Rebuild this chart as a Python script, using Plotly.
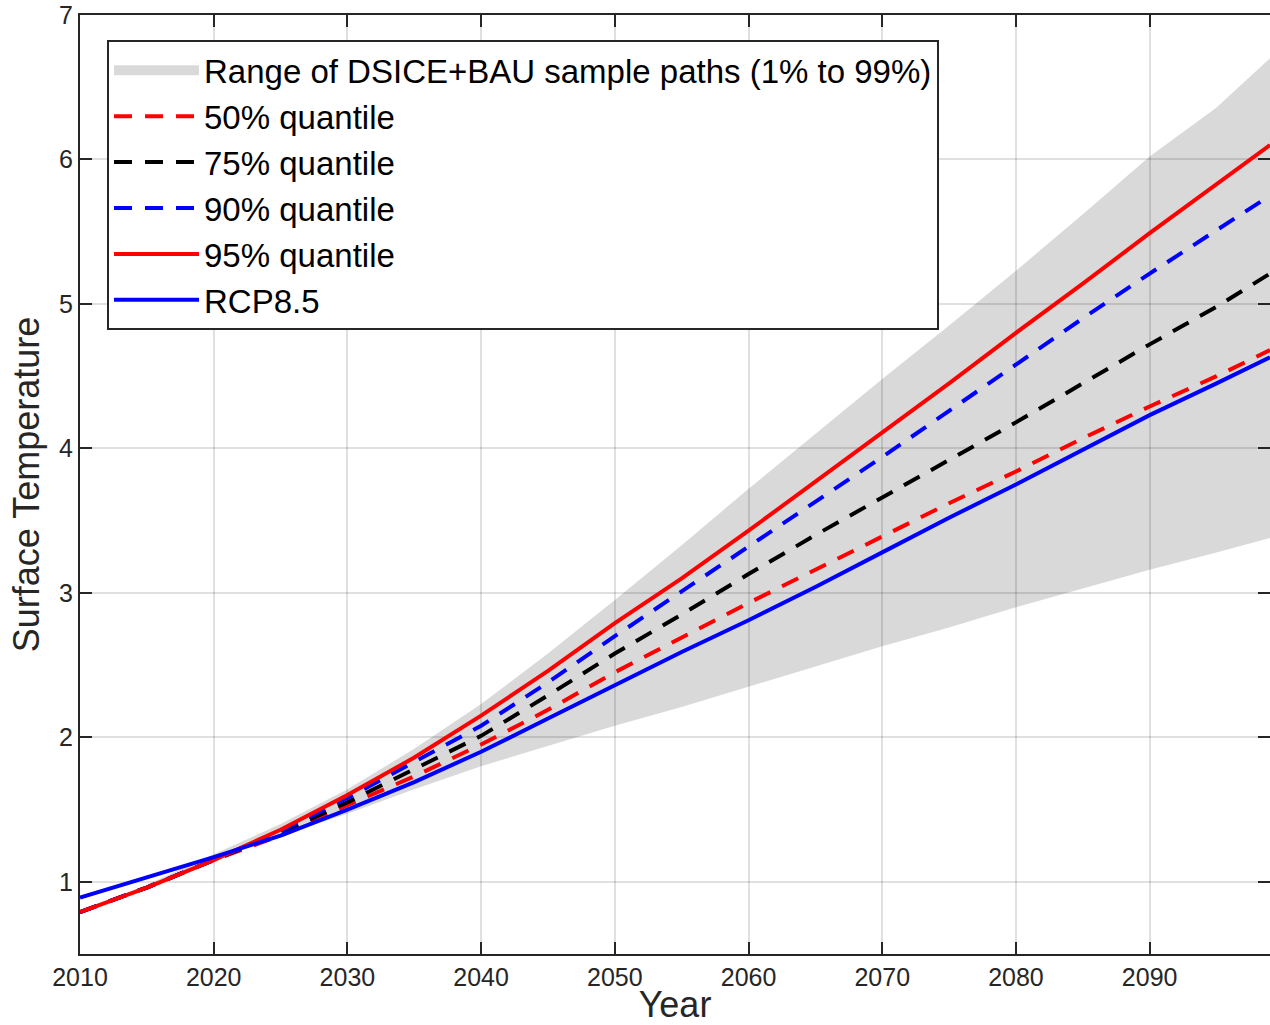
import plotly.graph_objects as go

years = [2010, 2015, 2020, 2025, 2030, 2035, 2040, 2045, 2050, 2055,
         2060, 2065, 2070, 2075, 2080, 2085, 2090, 2095, 2099]

band_low = [0.79, 0.97, 1.16, 1.32, 1.47, 1.64, 1.80, 1.94, 2.08, 2.21,
            2.35, 2.49, 2.63, 2.76, 2.90, 3.03, 3.16, 3.28, 3.38]
band_high = [0.79, 0.98, 1.19, 1.40, 1.64, 1.92, 2.23, 2.58, 2.95, 3.33,
             3.72, 4.10, 4.48, 4.85, 5.23, 5.62, 6.02, 6.36, 6.70]

q50 = [0.79, 0.96, 1.15, 1.32, 1.53, 1.73, 1.95, 2.19, 2.45, 2.69,
       2.93, 3.16, 3.39, 3.62, 3.84, 4.07, 4.29, 4.50, 4.68]
q75 = [0.79, 0.96, 1.15, 1.34, 1.55, 1.78, 2.01, 2.29, 2.58, 2.85,
       3.13, 3.40, 3.66, 3.92, 4.18, 4.45, 4.72, 4.98, 5.21]
q90 = [0.79, 0.96, 1.15, 1.35, 1.58, 1.83, 2.08, 2.38, 2.70, 3.01,
       3.32, 3.63, 3.94, 4.26, 4.58, 4.90, 5.21, 5.51, 5.75]
q95 = [0.79, 0.96, 1.15, 1.36, 1.60, 1.86, 2.15, 2.46, 2.79, 3.10,
       3.43, 3.77, 4.11, 4.45, 4.80, 5.14, 5.49, 5.83, 6.10]
rcp85 = [0.89, 1.03, 1.17, 1.32, 1.50, 1.69, 1.90, 2.13, 2.36, 2.59,
         2.81, 3.04, 3.28, 3.52, 3.75, 3.99, 4.23, 4.45, 4.63]

x_ticks = [2010, 2020, 2030, 2040, 2050, 2060, 2070, 2080, 2090]
y_ticks = [1, 2, 3, 4, 5, 6, 7]

FONT = "Liberation Sans, Arial, Helvetica, sans-serif"
AX = "#262626"
DASH = "18px,13px"
BAND = "rgba(0,0,0,0.15)"
BAND_NAME = "Range of DSICE+BAU sample paths (1% to 99%)"

fig = go.Figure()
fig.add_trace(go.Scatter(x=years, y=band_low, mode="lines", line=dict(width=0),
                         showlegend=False, hoverinfo="skip", legendgroup="band"))
fig.add_trace(go.Scatter(x=years, y=band_high, mode="lines", line=dict(width=0),
                         fill="tonexty", fillcolor=BAND, showlegend=False,
                         legendgroup="band", name=BAND_NAME))
# legend key for the band (grey box)
fig.add_trace(go.Scatter(x=[None], y=[None], mode="lines",
                         line=dict(color=BAND, width=26),
                         legendgroup="band", name=BAND_NAME))
fig.add_trace(go.Scatter(x=years, y=q50, mode="lines",
                         line=dict(color="#FF0000", width=4, dash=DASH), name="50% quantile"))
fig.add_trace(go.Scatter(x=years, y=q75, mode="lines",
                         line=dict(color="#000000", width=4, dash=DASH), name="75% quantile"))
fig.add_trace(go.Scatter(x=years, y=q90, mode="lines",
                         line=dict(color="#0000FF", width=4, dash=DASH), name="90% quantile"))
fig.add_trace(go.Scatter(x=years, y=q95, mode="lines",
                         line=dict(color="#FF0000", width=4), name="95% quantile"))
fig.add_trace(go.Scatter(x=years, y=rcp85, mode="lines",
                         line=dict(color="#0000FF", width=4), name="RCP8.5"))

axis_common = dict(
    showline=True, linecolor=AX, linewidth=2, mirror="ticks",
    ticks="inside", ticklen=12, tickwidth=2, tickcolor=AX,
    showgrid=True, gridcolor="rgba(0,0,0,0.12)", gridwidth=2,
    zeroline=False, automargin=False,
    tickfont=dict(size=25, color=AX, family=FONT),
)

fig.update_xaxes(range=[2010, 2099], tickvals=x_ticks,
                 title=dict(text="Year", font=dict(size=36, color=AX, family=FONT), standoff=0),
                 **axis_common)
fig.update_yaxes(range=[0.5, 7], tickvals=y_ticks,
                 title=dict(text="Surface Temperature", font=dict(size=36, color=AX, family=FONT), standoff=8),
                 **axis_common)

fig.update_layout(
    width=1270, height=1025,
    margin=dict(l=80, r=0, t=15, b=71),
    plot_bgcolor="white", paper_bgcolor="white",
    font=dict(family=FONT, color=AX),
    legend=dict(
        x=0.0227, y=0.973, xanchor="left", yanchor="top",
        traceorder="normal",
        bgcolor="white", bordercolor=AX, borderwidth=2,
        font=dict(size=33, color="#000000", family=FONT),
        itemwidth=85, tracegroupgap=0,
    ),
)

fig.write_html("out.html", config={"displayModeBar": False},
               post_script="document.body.style.margin='0';document.body.style.overflow='hidden';")
